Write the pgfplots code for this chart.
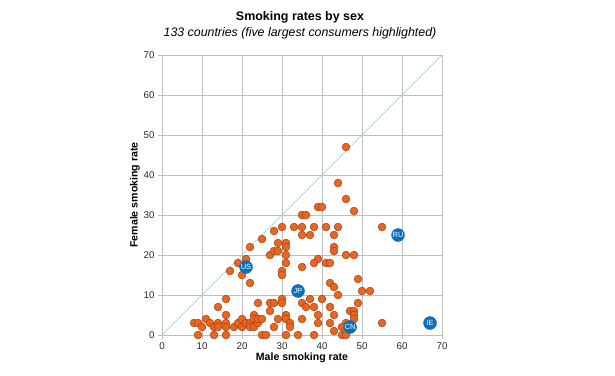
\documentclass[border=0pt]{standalone}
\usepackage{pgfplots}
\pgfplotsset{compat=1.18}
\usepackage{fontspec}
\setmainfont{Liberation Sans}
\definecolor{dotfill}{HTML}{EB6420}
\definecolor{dotedge}{HTML}{9A4514}
\definecolor{hiblue}{HTML}{0B6FBF}
\definecolor{gridgray}{HTML}{BEBEBE}
\definecolor{diagblue}{HTML}{A3BDE0}
\begin{document}
\begin{tikzpicture}[x=1bp,y=1bp]
\path[use as bounding box] (0,0) rectangle (615,375);
\node[font=\bfseries\fontsize{12.5}{14}\selectfont] at (300,358) {Smoking rates by sex};
\node[font=\itshape\fontsize{12.4}{14}\selectfont] at (300,342) {133 countries (five largest consumers highlighted)};
\begin{axis}[
  at={(162bp,40bp)}, anchor=south west,
  width=280bp, height=280bp, scale only axis,
  xmin=0, xmax=70, ymin=0, ymax=70,
  xtick={0,10,...,70}, ytick={0,10,...,70},
  grid=major,
  major grid style={draw=gridgray, line width=0.8pt},
  axis line style={draw=gridgray, line width=0.8pt},
  tick style={draw=gridgray, line width=0.8pt},
  tick align=outside, major tick length=4bp,
  xtick pos=bottom, ytick pos=left,
  ticklabel style={font=\fontsize{9.8}{11}\selectfont, text=black!85},
  /pgf/number format/assume math mode=true,
  xlabel={Male smoking rate}, ylabel={Female smoking rate},
  label style={font=\bfseries\fontsize{10.6}{12}\selectfont},
  xlabel style={yshift=3bp},
  ylabel style={yshift=-3bp},
  clip=false,
]
\addplot[diagblue, line width=0.6pt] coordinates {(0,0) (70,70)};
\addplot[only marks, mark=*, mark size=3.9bp,
  mark options={fill=dotfill, draw=dotedge, line width=0.5pt}] coordinates {
(8,3) (9,3) (9,0) (10,2) (11,4) (12,3) (13,2) (13,0) (14,3) (14,2) (14,7)
(16,9) (16,5) (16,3) (16,2) (16,0) (17,16) (18,2) (19,3) (19,18) (20,4) (20,2)
(20,15) (21,19) (22,22) (22,13) (21,3) (22,3) (22,2) (23,5) (23,4) (23,2)
(24,3) (24,8) (24,4) (25,4) (25,0) (26,0) (25,24) (27,6) (27,8) (27,20)
(28,8) (28,21) (28,2) (28,26) (29,4) (29,23) (29,21) (30,27) (30,9) (30,8)
(30,16) (30,15) (31,23) (31,22) (31,20) (31,18) (31,5) (31,4) (32,3) (32,2)
(31,0) (33,27) (34,0) (35,30) (35,27) (35,25) (35,17) (35,8) (35,4) (36,7)
(46,47) (44,38) (46,34) (39,32) (40,32) (48,31) (36,30) (38,27) (41,27) (44,27)
(37,25) (43,25) (55,27) (43,22) (43,21) (46,20) (48,20) (39,19) (38,18) (41,18)
(42,18) (49,14) (42,13) (43,12) (50,11) (52,11) (44,10) (37,9) (40,9) (38,7)
(42,7) (49,8) (47,6) (48,6) (39,5) (43,5) (48,5) (48,4) (39,3) (42,3) (46,3)
(55,3) (43,1) (45,2) (38,0) (45,0) (46,0)
};
\addplot[only marks, mark=*, mark size=6.5bp,
  mark options={fill=hiblue, draw=hiblue},
  nodes near coords, point meta=explicit symbolic,
  every node near coord/.style={anchor=center, text=white,
    font=\fontsize{7.5}{8}\selectfont}] coordinates {
(21,17) [US] (34,11) [JP] (59,25) [RU] (67,3) [IE] (47,2) [CN]
};
\end{axis}
\end{tikzpicture}
\end{document}
